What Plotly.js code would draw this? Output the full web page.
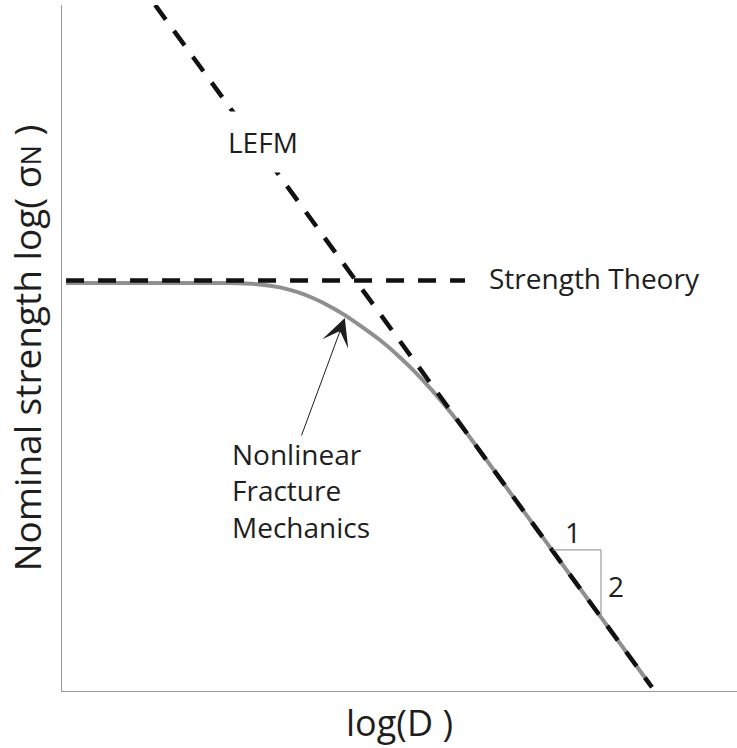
<!DOCTYPE html>
<html>
<head>
<meta charset="utf-8">
<script src="https://cdn.plot.ly/plotly-3.0.1.min.js"></script>
<style>
  html, body { margin: 0; padding: 0; background: #ffffff; }
  #chart { width: 737px; height: 748px; }
</style>
</head>
<body>
<div id="chart"></div>
<script>
// Strength theory: constant nominal strength (horizontal asymptote)
const strengthLogD = [0.06, 5.97];
const strengthLogSigma = [2.22, 2.22];

// LEFM: straight asymptote of slope -1/2
const lefmLogD = [1.38, 8.74];
const lefmLogSigma = [3.71, 0.02];

// Nonlinear fracture mechanics: transition between the two asymptotes
const nlfmLogD = [0.06, 1.30, 2.49, 2.93, 3.23, 3.48, 3.75, 3.97, 4.19, 4.46, 4.71,
                  4.96, 5.21, 5.46, 5.71, 5.96, 6.21, 6.79, 7.38, 7.97, 8.74];
const nlfmLogSigma = [2.207, 2.207, 2.206, 2.199, 2.183, 2.158, 2.120, 2.080, 2.033, 1.965, 1.898,
                      1.820, 1.733, 1.635, 1.528, 1.412, 1.289, 0.997, 0.702, 0.406, 0.020];

// Slope marker beside the LEFM line
const slopeLogD = [7.27, 7.985, 7.985];
const slopeLogSigma = [0.763, 0.763, 0.41];
const slopeLabels = ['1', '2'];

const textFont = { family: '"Open Sans", "Noto Sans", sans-serif', size: 28, color: '#1e1e1e' };

const traces = [
  {
    x: nlfmLogD, y: nlfmLogSigma, type: 'scatter', mode: 'lines',
    line: { color: '#8f8f8f', width: 4, shape: 'spline', smoothing: 0.5 },
    hoverinfo: 'skip', showlegend: false
  },
  {
    x: strengthLogD, y: strengthLogSigma, type: 'scatter', mode: 'lines',
    line: { color: '#111111', width: 4.5, dash: '18px,14px' },
    hoverinfo: 'skip', showlegend: false
  },
  {
    x: lefmLogD, y: lefmLogSigma, type: 'scatter', mode: 'lines',
    line: { color: '#111111', width: 4.5, dash: '18px,14px' },
    hoverinfo: 'skip', showlegend: false
  },
  {
    x: slopeLogD, y: slopeLogSigma, type: 'scatter', mode: 'lines',
    line: { color: '#8a8a8a', width: 1 },
    hoverinfo: 'skip', showlegend: false
  }
];

const axisCommon = {
  showgrid: false, zeroline: false, showticklabels: false, ticks: '',
  showline: true, linecolor: '#9a9a9a', linewidth: 1, fixedrange: true
};

const layout = {
  width: 737, height: 748,
  margin: { l: 62, r: 0, t: 5, b: 57 },
  paper_bgcolor: '#ffffff', plot_bgcolor: '#ffffff',
  font: textFont,
  xaxis: Object.assign({}, axisCommon, {
    range: [0, 10],
    title: { text: 'log(D )', font: { family: textFont.family, size: 36, color: '#1e1e1e' }, standoff: 19 }
  }),
  yaxis: Object.assign({}, axisCommon, {
    range: [0, 3.71],
    title: {
      text: 'Nominal strength log( σ<span style="font-size:27px">N</span> )',
      font: { family: textFont.family, size: 37, color: '#1e1e1e' }, standoff: 8
    }
  }),
  annotations: [
    { x: 2.98, y: 2.969, xref: 'x', yref: 'y', text: 'LEFM', showarrow: false,
      bgcolor: '#ffffff', borderpad: 11, font: textFont },
    { x: 6.30, y: 2.234, xref: 'x', yref: 'y', text: 'Strength Theory', showarrow: false,
      xanchor: 'left', font: textFont },
    { x: 2.49, y: 1.082, xref: 'x', yref: 'y', text: 'Nonlinear<br>Fracture<br>Mechanics',
      showarrow: false, xanchor: 'left', align: 'left', font: textFont },
    { x: 4.19, y: 2.017, xref: 'x', yref: 'y', ax: 3.54, ay: 1.374, axref: 'x', ayref: 'y',
      text: '', showarrow: true, arrowhead: 3, arrowsize: 4.6, arrowwidth: 1, arrowcolor: '#1e1e1e' },
    { x: 7.57, y: 0.860, xref: 'x', yref: 'y', text: slopeLabels[0], showarrow: false, font: textFont },
    { x: 8.207, y: 0.568, xref: 'x', yref: 'y', text: slopeLabels[1], showarrow: false, font: textFont }
  ]
};

Plotly.newPlot('chart', traces, layout, { staticPlot: true, displayModeBar: false });
</script>
</body>
</html>
